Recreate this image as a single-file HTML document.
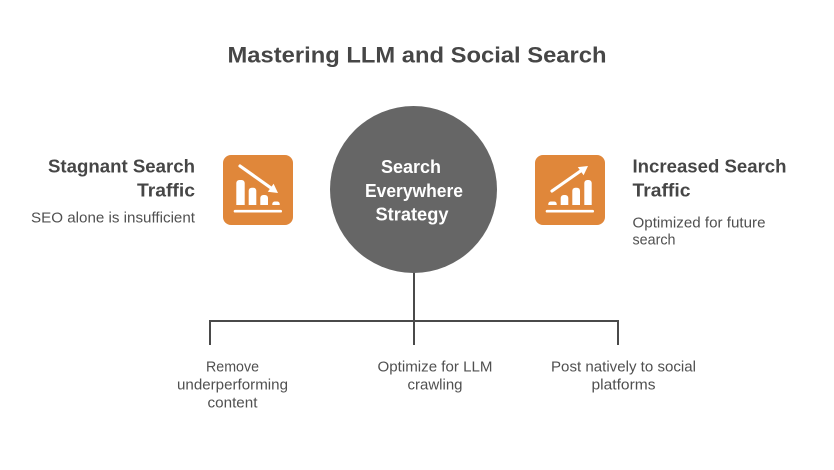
<!DOCTYPE html>
<html>
<head>
<meta charset="utf-8">
<style>
  html, body { margin: 0; padding: 0; background: #ffffff; }
  body { width: 834px; height: 470px; overflow: hidden; }
  svg { display: block; }
  text { font-family: "Liberation Sans", Arial, sans-serif; }
</style>
</head>
<body>
<svg width="834" height="470" viewBox="0 0 834 470" xmlns="http://www.w3.org/2000/svg">
  <rect width="834" height="470" fill="#ffffff"/>

  <!-- Title -->
  <text x="417" y="62.5" text-anchor="middle" font-size="22.5" font-weight="bold" fill="#464646" textLength="379" lengthAdjust="spacingAndGlyphs">Mastering LLM and Social Search</text>

  <!-- Connectors -->
  <g stroke="#4a4a4a" stroke-width="2" fill="none">
    <line x1="414" y1="270" x2="414" y2="345"/>
    <line x1="209" y1="321" x2="619" y2="321"/>
    <line x1="210" y1="320" x2="210" y2="345"/>
    <line x1="618" y1="320" x2="618" y2="345"/>
  </g>

  <!-- Central circle -->
  <circle cx="413.5" cy="189.5" r="83.5" fill="#666666"/>
  <g font-size="18" font-weight="bold" fill="#ffffff" text-anchor="middle">
    <text x="411" y="173" textLength="60" lengthAdjust="spacingAndGlyphs">Search</text>
    <text x="414" y="197" textLength="98" lengthAdjust="spacingAndGlyphs">Everywhere</text>
    <text x="412" y="220.5" textLength="73" lengthAdjust="spacingAndGlyphs">Strategy</text>
  </g>

  <!-- Left heading -->
  <g fill="#464646" font-weight="bold" font-size="18.5" text-anchor="end">
    <text x="195" y="172.5" textLength="147" lengthAdjust="spacingAndGlyphs">Stagnant Search</text>
    <text x="195" y="196.5" textLength="58" lengthAdjust="spacingAndGlyphs">Traffic</text>
  </g>
  <text x="195" y="222.7" text-anchor="end" font-size="15" fill="#505050" textLength="164" lengthAdjust="spacingAndGlyphs">SEO alone is insufficient</text>

  <!-- Right heading -->
  <g fill="#464646" font-weight="bold" font-size="18.5">
    <text x="632.5" y="172.7" textLength="154" lengthAdjust="spacingAndGlyphs">Increased Search</text>
    <text x="632.5" y="196.7" textLength="58" lengthAdjust="spacingAndGlyphs">Traffic</text>
  </g>
  <g fill="#505050" font-size="15">
    <text x="632.5" y="227.3" textLength="133" lengthAdjust="spacingAndGlyphs">Optimized for future</text>
    <text x="632.5" y="244.3" textLength="43" lengthAdjust="spacingAndGlyphs">search</text>
  </g>

  <!-- Left icon -->
  <rect x="223" y="155" width="70" height="70" rx="8" fill="#E0873A"/>
  <g fill="#ffffff">
    <path d="M236.3 205 V183 a3 3 0 0 1 3 -3 h2.4 a3 3 0 0 1 3 3 V205 Z"/>
    <path d="M248.7 205 V190.7 a3 3 0 0 1 3 -3 h1.6 a3 3 0 0 1 3 3 V205 Z"/>
    <path d="M260.3 205 V198 a3 3 0 0 1 3 -3 h1.7 a3 3 0 0 1 3 3 V205 Z"/>
    <path d="M272.3 205 V204 a2.5 2.5 0 0 1 2.5 -2.5 h2.4 a2.5 2.5 0 0 1 2.5 2.5 V205 Z"/>
    <rect x="233.7" y="209.9" width="48.3" height="2.6" rx="1.3"/>
    <polygon points="278,193 267.8,191.8 273.6,183.7"/>
  </g>
  <line x1="240" y1="166" x2="271" y2="188" stroke="#ffffff" stroke-width="3.2" stroke-linecap="round"/>

  <!-- Right icon -->
  <rect x="535" y="155" width="70" height="70" rx="8" fill="#E0873A"/>
  <g fill="#ffffff">
    <path d="M548.3 205 V204 a2.5 2.5 0 0 1 2.5 -2.5 h3.4 a2.5 2.5 0 0 1 2.5 2.5 V205 Z"/>
    <path d="M560.7 205 V198 a3 3 0 0 1 3 -3 h1.6 a3 3 0 0 1 3 3 V205 Z"/>
    <path d="M572.3 205 V190.7 a3 3 0 0 1 3 -3 h1.7 a3 3 0 0 1 3 3 V205 Z"/>
    <path d="M584.3 205 V183 a3 3 0 0 1 3 -3 h1.4 a3 3 0 0 1 3 3 V205 Z"/>
    <rect x="545.7" y="209.9" width="48.3" height="2.6" rx="1.3"/>
    <polygon points="588,166 583.6,175.3 577.8,167.1"/>
  </g>
  <line x1="552" y1="191" x2="582" y2="170" stroke="#ffffff" stroke-width="3.2" stroke-linecap="round"/>

  <!-- Bottom labels -->
  <g fill="#505050" font-size="14.5" text-anchor="middle">
    <text x="232.5" y="371.7" textLength="53" lengthAdjust="spacingAndGlyphs">Remove</text>
    <text x="232.5" y="389.7" textLength="111" lengthAdjust="spacingAndGlyphs">underperforming</text>
    <text x="232.5" y="407.7" textLength="50" lengthAdjust="spacingAndGlyphs">content</text>

    <text x="435" y="371.7" textLength="115" lengthAdjust="spacingAndGlyphs">Optimize for LLM</text>
    <text x="435" y="389.7" textLength="55" lengthAdjust="spacingAndGlyphs">crawling</text>

    <text x="623.5" y="371.7" textLength="145" lengthAdjust="spacingAndGlyphs">Post natively to social</text>
    <text x="623.5" y="389.7" textLength="64" lengthAdjust="spacingAndGlyphs">platforms</text>
  </g>
</svg>
</body>
</html>
